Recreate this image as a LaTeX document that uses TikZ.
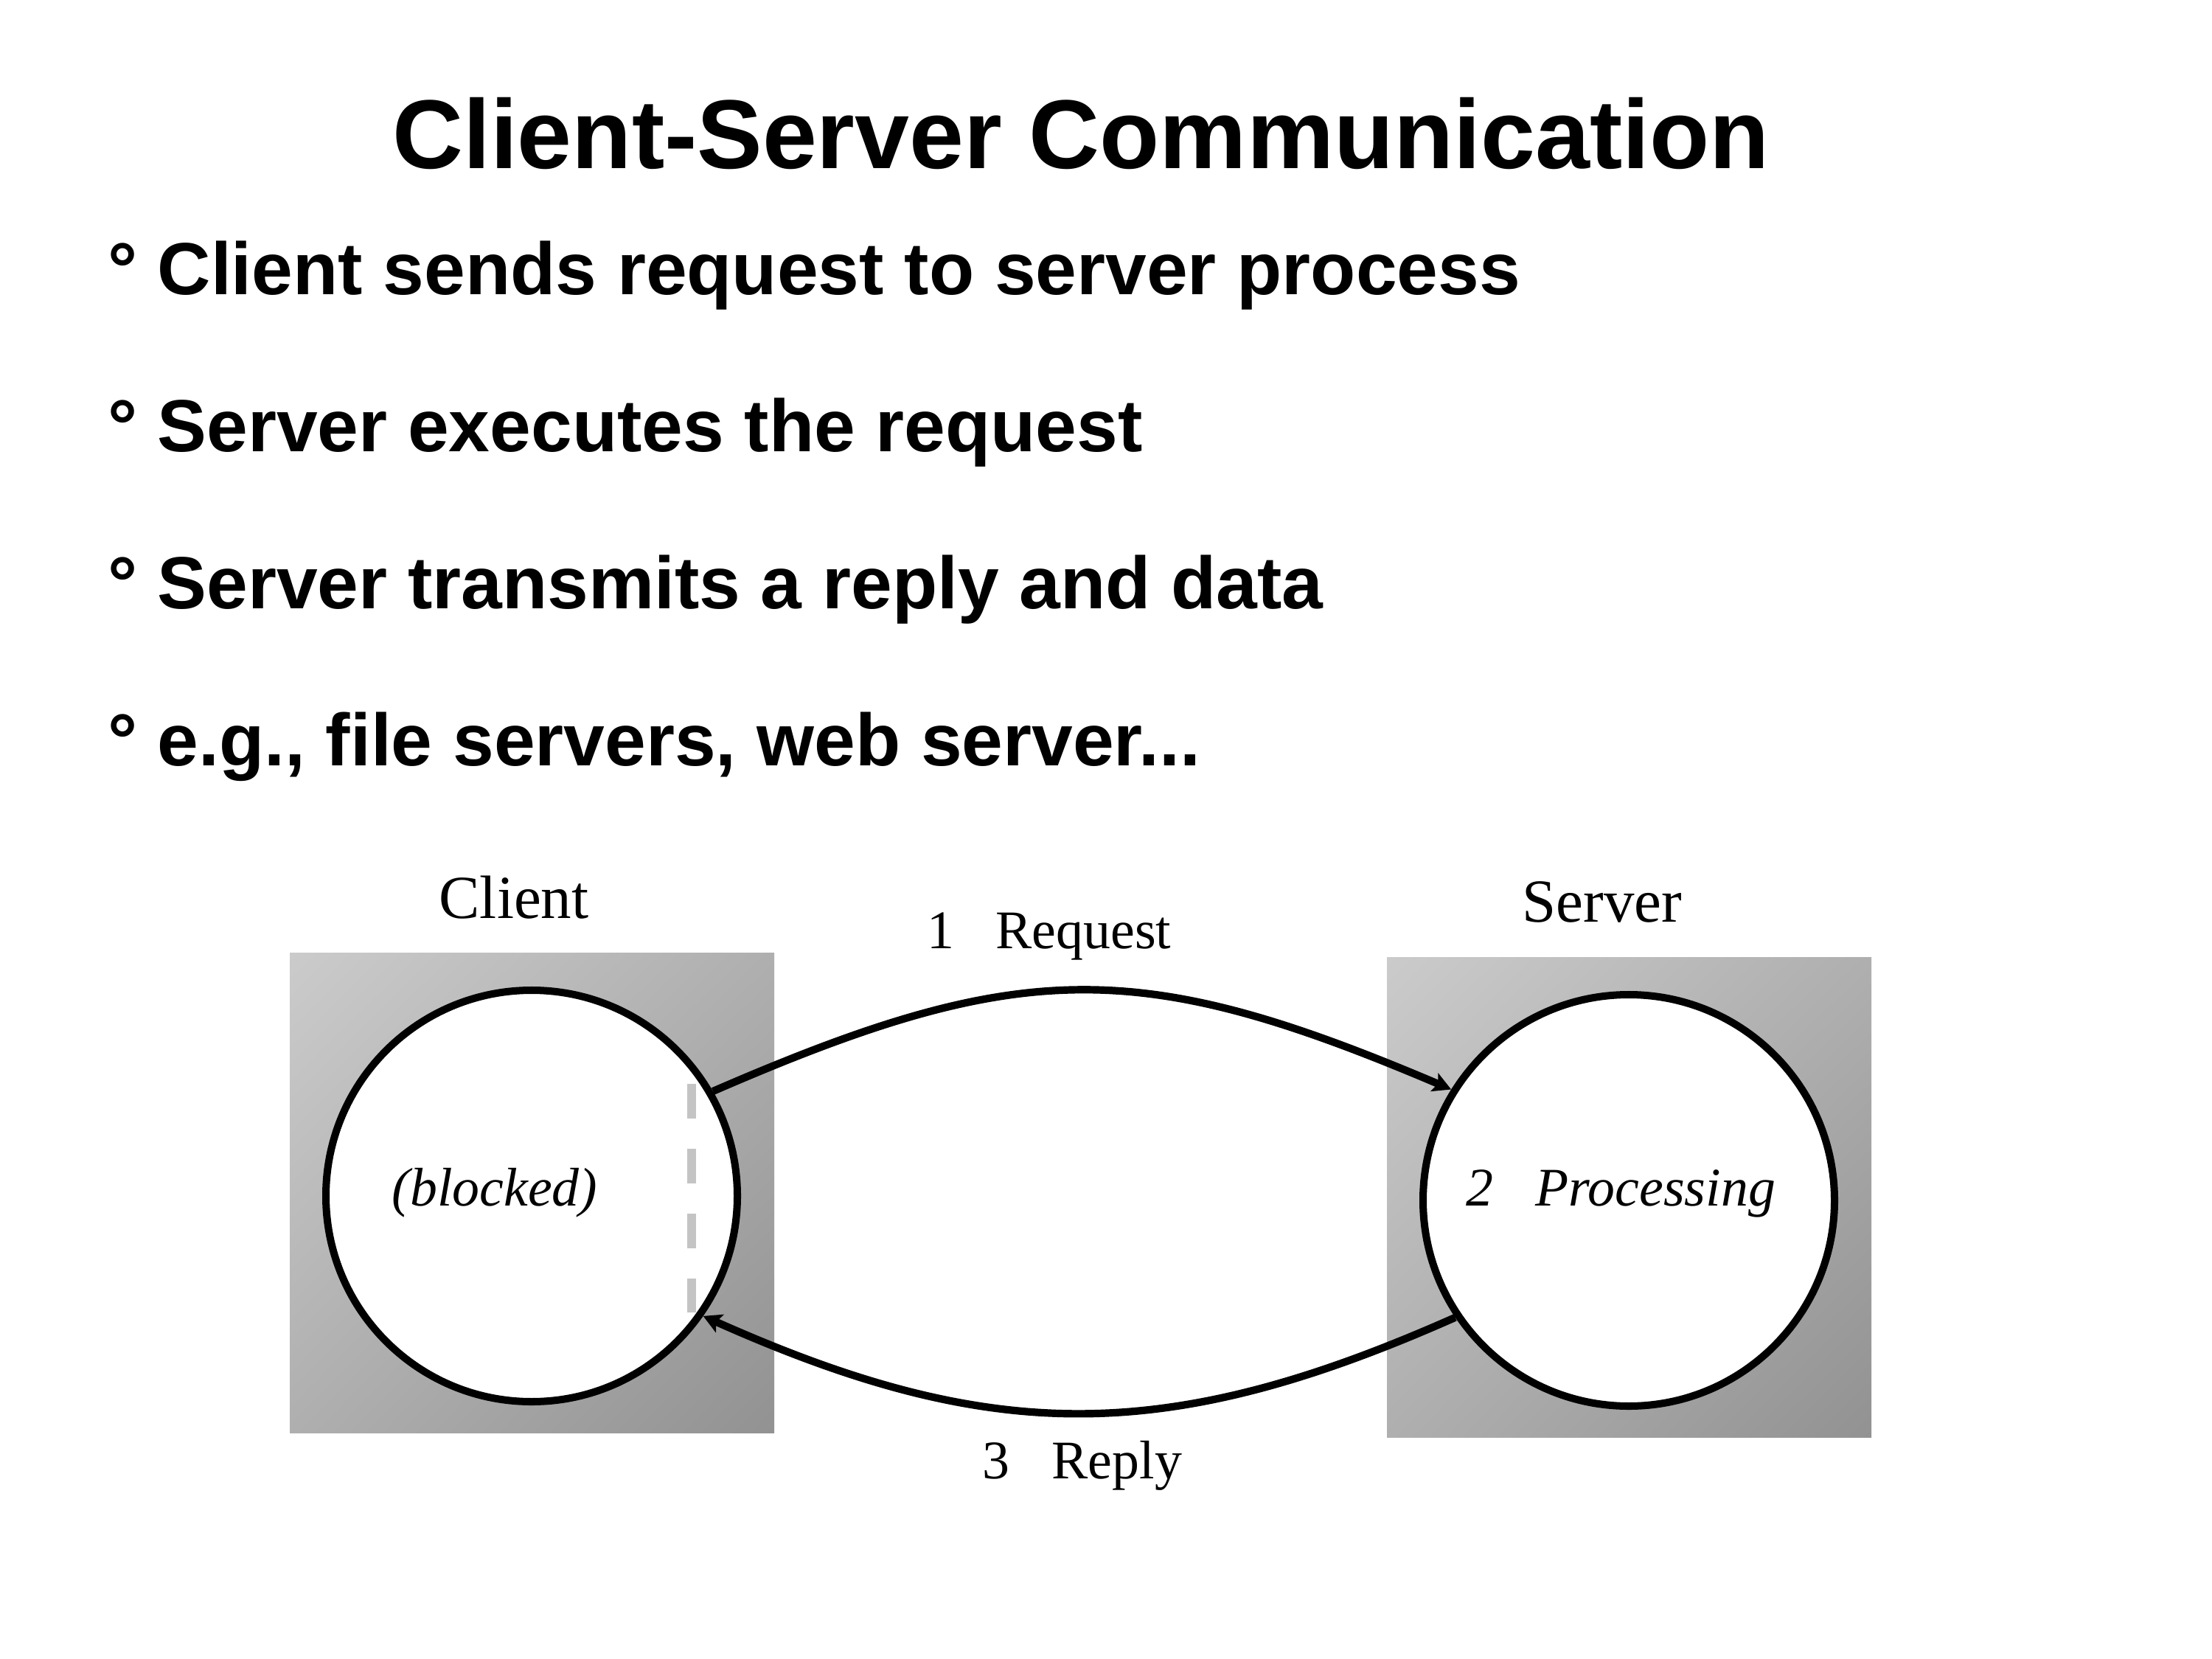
\documentclass[tikz,border=0pt]{standalone}
\usepackage{fontspec}
\setmainfont{Liberation Serif}
\newfontfamily\arialfont{Liberation Sans}
\usetikzlibrary{arrows.meta,shadings}
\definecolor{boxlight}{HTML}{CBCBCB}
\definecolor{boxmid}{HTML}{AFAFAF}
\definecolor{boxdark}{HTML}{929292}
\definecolor{dashgray}{HTML}{C4C4C4}
\begin{document}
\begin{tikzpicture}[
  titletext/.style={font=\arialfont\bfseries\fontsize{37.8}{45}\selectfont, anchor=base, inner sep=0pt},
  bullettext/.style={font=\arialfont\bfseries\fontsize{28.5}{34}\selectfont, anchor=base west, inner sep=0pt},
  lbl/.style={font=\fontsize{21}{25}\selectfont, anchor=base west, inner sep=0pt},
  biglbl/.style={font=\fontsize{23.6}{28}\selectfont, anchor=base, inner sep=0pt},
  proc/.style={circle, draw=black, line width=2.85pt, fill=white, minimum size=5.58cm, inner sep=0pt},
  msg/.style={line width=2.9pt, -{Stealth[length=7pt,width=7.5pt,inset=1.5pt]}},
  blockline/.style={draw=dashgray, line width=0.12cm, dash pattern=on 0.47cm off 0.41cm},
  procbox/.style={upper left=boxlight, lower right=boxdark, upper right=boxmid, lower left=boxmid},
]
\fill[white] (0,0) rectangle (30,-22.5);
\useasboundingbox (0,0) rectangle (30,-22.5);

% title and bullets
\node[titletext] (title) at (14.66,-2.29) {Client-Server Communication};
\foreach \y/\t [count=\i] in {4.00/Client sends request to server process,
  6.13/Server executes the request,
  8.26/Server transmits a reply and data,
  10.38/{e.g., file servers, web server...}} {
  \node[bullettext] (dot\i) at (1.46,-\y) {°};
  \node[bullettext] (item\i) at (2.13,-\y) {\t};
}

% process boxes
\shade[procbox] (3.93,-12.92) rectangle (10.50,-19.43);
\shade[procbox] (18.81,-12.98) rectangle (25.38,-19.49);

\node[proc] (client) at (7.21,-16.22) {};
\node[proc] (server) at (22.09,-16.28) {};

\draw[blockline] (9.38,-14.70) -- (9.38,-17.80);

\node[biglbl] (clientlbl) at (6.97,-12.45) {Client};
\node[biglbl] (serverlbl) at (21.73,-12.50) {Server};

\node[lbl, anchor=base] (blocked) at (6.71,-16.35) {\itshape (blocked)};
\node[lbl] (processing) at (19.88,-16.35) {\itshape 2\hspace{0.57cm}Processing};

% messages
\draw[msg] (client.30.9) .. controls (13.86,-12.98) and (15.46,-12.98) .. (server.148.8);
\draw[msg] (server.214.4) .. controls (15.83,-19.60) and (13.46,-19.60) .. (client.325.4);

\node[lbl] (reqlbl) at (12.57,-12.86) {1\hspace{0.56cm}Request};
\node[lbl] (replbl) at (13.32,-20.05) {3\hspace{0.57cm}Reply};
\end{tikzpicture}
\end{document}
